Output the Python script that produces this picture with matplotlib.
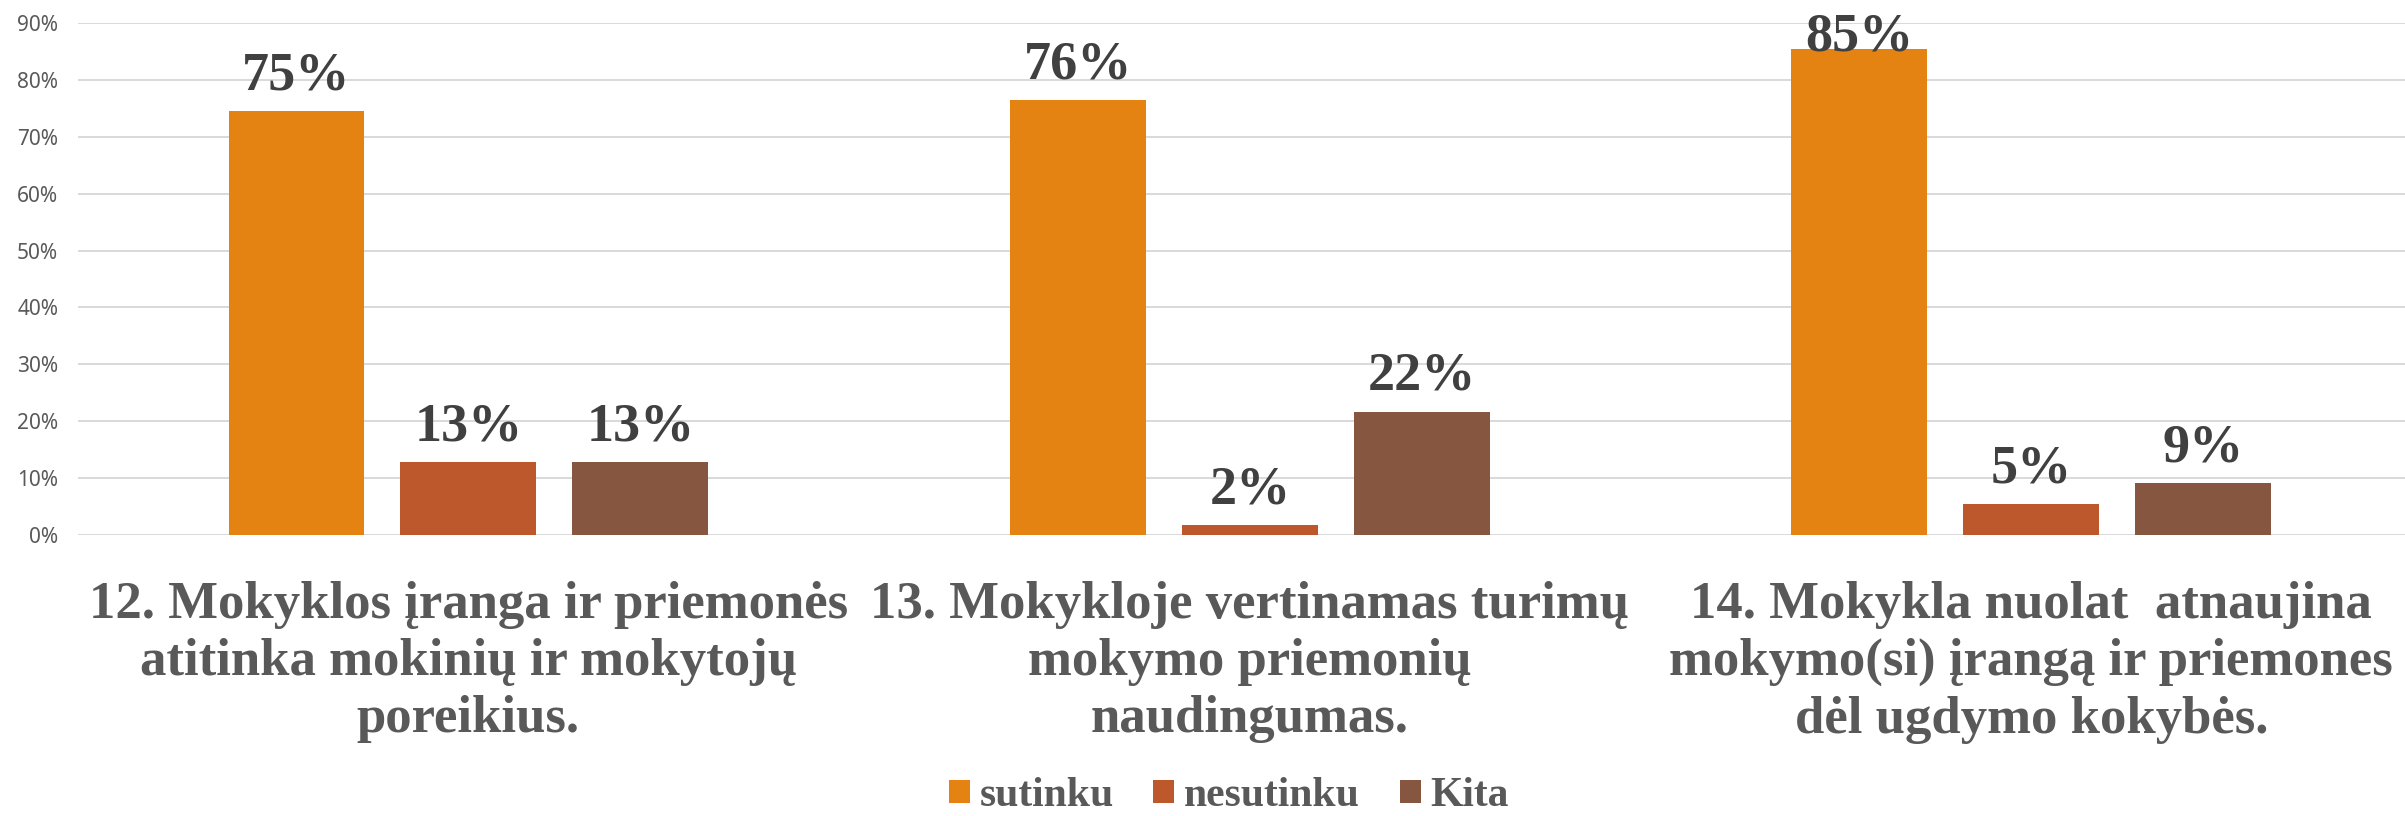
import matplotlib
matplotlib.use("Agg")
import matplotlib.pyplot as plt
from matplotlib.patches import Patch
import numpy as np

categories = [
    "12. Mokyklos įranga ir priemonės\natitinka mokinių ir mokytojų\nporeikius.",
    "13. Mokykloje vertinamas turimų\nmokymo priemonių\nnaudingumas.",
    "14. Mokykla nuolat  atnaujina\nmokymo(si) įrangą ir priemones\ndėl ugdymo kokybės.",
]
series_names = ["sutinku", "nesutinku", "Kita"]
sutinku = [0.745, 0.764, 0.854]
nesutinku = [0.128, 0.017, 0.054]
kita = [0.128, 0.217, 0.091]
labels_sutinku = ["75%", "76%", "85%"]
labels_nesutinku = ["13%", "2%", "5%"]
labels_kita = ["13%", "22%", "9%"]
yticks = [0, 0.1, 0.2, 0.3, 0.4, 0.5, 0.6, 0.7, 0.8, 0.9]
ytick_labels = ["0%", "10%", "20%", "30%", "40%", "50%", "60%", "70%", "80%", "90%"]

colors = ["#E48312", "#BD582C", "#865640"]
serif = ["Liberation Serif", "DejaVu Serif"]

fig = plt.figure(figsize=(24.05, 8.16), dpi=100)
ax = fig.add_axes([0.0323, 0.3444, 0.9748, 0.6274])

x = np.arange(len(categories))
width = 0.174
step = 0.220
data = [sutinku, nesutinku, kita]
labs = [labels_sutinku, labels_nesutinku, labels_kita]
for j, (vals, lbls) in enumerate(zip(data, labs)):
    pos = x + (j - 1) * step
    ax.bar(pos, vals, width=width, color=colors[j], zorder=3)
    for p, v, t in zip(pos, vals, lbls):
        yl = min(v + 0.038, 0.852)
        ax.text(p, yl, t, ha="center", va="baseline", fontsize=39,
                fontweight="bold", family=serif, color="#404040", zorder=4,
                clip_on=False)

ax.set_ylim(0, 0.9)
ax.set_xlim(-0.5, 2.5)
ax.set_yticks(yticks)
ax.set_yticklabels(ytick_labels, fontsize=15, color="#595959", family=["Noto Sans", "DejaVu Sans"])
ax.yaxis.grid(True, color="#D9D9D9", linewidth=1.4, zorder=0)
ax.set_axisbelow(True)
ax.tick_params(axis="y", length=0, pad=14)
ax.set_xticks(x)
ax.set_xticklabels(categories, fontsize=38, fontweight="bold", family=serif,
                   color="#595959", linespacing=1.25)
ax.tick_params(axis="x", length=0, pad=33)
for s in ax.spines.values():
    s.set_visible(False)

handles = [Patch(facecolor=c, edgecolor="none") for c in colors]
leg = fig.legend(handles, series_names, loc="lower center", bbox_to_anchor=(0.511, -0.045),
                 ncol=3, frameon=False, handlelength=0.5, handleheight=0.5,
                 handletextpad=0.24, columnspacing=0.95,
                 prop={"family": serif, "weight": "bold", "size": 30})
for t in leg.get_texts():
    t.set_color("#595959")

fig.savefig("out.png", dpi=100, facecolor="white")
